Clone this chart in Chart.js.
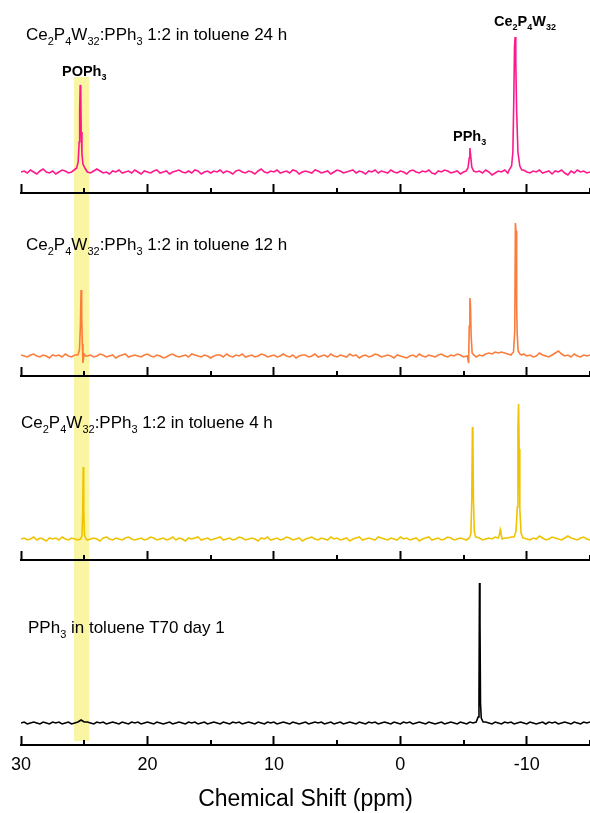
<!DOCTYPE html>
<html>
<head>
<meta charset="utf-8">
<script src="https://cdn.jsdelivr.net/npm/chart.js@4.4.1/dist/chart.umd.min.js"></script>
<style>
  html, body { margin: 0; padding: 0; background: #fff; }
  body { width: 590px; height: 813px; overflow: hidden; position: relative; }
  canvas { position: absolute; left: 0; }
  .t { position: absolute; font-family: 'Liberation Sans', Arial, sans-serif; font-size: 17px; line-height: 20px; color: #000; white-space: nowrap; z-index: 5; }
  .t sub { font-size: 11px; vertical-align: baseline; position: relative; top: 5px; }
  .p { position: absolute; font-family: 'Liberation Sans', Arial, sans-serif; font-size: 14.5px; font-weight: bold; line-height: 18px; color: #000; white-space: nowrap; z-index: 5; }
  .p sub { font-size: 9px; vertical-align: baseline; position: relative; top: 4px; }
</style>
</head>
<body>
<canvas id="c1" width="590" height="195" style="top:0px"></canvas>
<canvas id="c2" width="590" height="183" style="top:195px"></canvas>
<canvas id="c3" width="590" height="184" style="top:378px"></canvas>
<canvas id="c4" width="590" height="251" style="top:562px"></canvas>

<div class="t" style="left:26px; top:25px">Ce<sub>2</sub>P<sub>4</sub>W<sub>32</sub>:PPh<sub>3</sub> 1:2 in toluene 24 h</div>
<div class="t" style="left:26px; top:235px">Ce<sub>2</sub>P<sub>4</sub>W<sub>32</sub>:PPh<sub>3</sub> 1:2 in toluene 12 h</div>
<div class="t" style="left:21px; top:413px">Ce<sub>2</sub>P<sub>4</sub>W<sub>32</sub>:PPh<sub>3</sub> 1:2 in toluene 4 h</div>
<div class="t" style="left:28px; top:618px">PPh<sub>3</sub> in toluene T70 day 1</div>

<div class="p" style="left:62px; top:62px">POPh<sub>3</sub></div>
<div class="p" style="left:453px; top:127px">PPh<sub>3</sub></div>
<div class="p" style="left:494px; top:12px">Ce<sub>2</sub>P<sub>4</sub>W<sub>32</sub></div>

<script>
// ---------------- data ----------------
// chemical shift axis (ppm), reversed
const axisMin = -15;
const axisMax = 30;
const majorTicks = [30, 20, 10, 0, -10];
const minorTicks = [25, 15, 5, -5, -15];
const axisTitle = 'Chemical Shift (ppm)';

// highlighted POPh3 region (ppm)
const bandFrom = 25.8;
const bandTo = 24.6;

// baseline sampling grid: starts at 30 ppm, every 0.25 ppm
const gridStart = 30;
const gridStep = 0.25;

// baseline noise, one value per grid point
const noise24h = [
 0,1,-1,2,0,-2,1,3,0,-1, 1,-2,0,2,1,-1,0,1,-2,1,
 2,0,-1,1,3,1,-1,0,-2,1, 0,2,-1,0,1,-1,2,0,-2,1,
 0,-1,1,2,-1,0,1,-2,0,1, 2,0,-1,1,-1,2,1,-2,0,1,
 -1,1,0,2,-1,1,0,-2,1,2, 0,-1,1,0,-2,1,3,0,-1,1,
 0,2,-1,0,1,-1,2,1,-2,0, 1,0,-1,2,1,-1,0,1,-2,0,
 2,1,-1,0,1,2,-1,1,0,-2, 1,0,2,-1,1,0,-1,2,0,-1,
 1,0,-2,1,2,0,-1,1,0,2, -1,-2,1,0,2,1,-1,0,1,-2,
 0,1,2,-1,0,1,-1,2,0,-3, -1,1,0,2,-1,1,0,-2,1,2,
 0,-1,1,0,2,-1,0,1,-2,1, 0,2,-1,-3,1,-1,2,0,1,-1,
 0
];
const noise12h = [
 1,0,-1,1,2,0,-1,1,0,-2, 1,0,1,-1,2,0,-1,1,0,2,
 -1,0,1,-1,0,2,1,-1,0,1, -2,0,1,2,-1,0,1,0,-1,1,
 2,0,-1,1,0,-2,-1,1,2,0, -1,0,1,-1,2,1,0,-1,1,0,
 -2,0,1,1,-1,2,0,-1,1,0, 2,-1,0,1,-1,0,2,1,-1,0,
 1,-1,0,2,0,-1,1,-2,0,1, 1,-1,0,2,-1,0,1,-1,2,0,
 -1,1,0,-1,2,0,1,-2,0,1, -1,0,2,1,-1,0,1,0,-2,1,
 0,-1,-2,0,1,-1,2,0,-1,1, 0,-1,1,2,0,-1,1,0,2,1,
 -1,0,1,0,-1,1,0,2,3,2, 4,3,4,3,2,1,0,-1,1,2,
 0,1,-1,0,3,1,0,-1,1,3, 5,2,0,1,-1,2,0,-1,1,0,
 1
];
const noise4h = [
 0,1,-1,0,2,-1,1,0,-2,1, 0,1,-1,2,0,-1,1,0,-1,2,
 1,-1,0,1,0,-2,1,2,0,-1, 1,0,-1,1,2,0,-1,0,1,-1,
 0,2,1,-1,0,1,-1,0,2,-1, 1,0,-2,1,0,1,2,-1,0,1,
 -1,0,1,2,-1,0,1,-1,0,2, 1,-1,0,1,0,-2,1,0,2,-1,
 0,1,-1,0,2,1,-1,0,1,-2, 0,1,2,0,-1,1,0,-1,2,0,
 1,-1,0,1,-2,0,1,2,-1,0, 1,0,-1,2,1,0,-1,1,0,-1,
 2,0,1,-1,0,1,-2,0,1,2, -1,0,1,-1,0,2,1,-1,0,1,
 0,-1,1,0,2,1,-1,0,1,0, 2,-1,0,1,1,2,-1,0,3,1,
 0,-1,1,0,3,1,-1,0,2,1, 0,-1,1,3,1,0,-1,1,2,0,
 -1
];
const noiseDay1 = [
 0,1,-1,0,1,0,-1,1,0,-1, 1,0,1,-1,0,1,-1,0,1,3,
 1,1,0,-1,1,0,1,-1,0,1, 0,-1,1,0,-1,1,0,1,-1,0,
 1,0,-1,1,0,-1,0,1,-1,0, 1,0,-1,1,0,1,-1,0,1,-1,
 0,1,0,-1,1,0,-1,1,0,1, -1,0,1,0,-1,1,0,-1,1,0,
 1,-1,0,1,0,-1,1,0,-1,0, 1,-1,0,1,0,1,-1,0,1,-1,
 0,1,-1,0,1,0,-1,1,0,-1, 1,0,1,-1,0,1,0,-1,1,0,
 -1,1,0,1,-1,0,1,0,-1,1, 0,-1,0,1,-1,0,1,0,-1,1,
 0,-1,1,0,1,-1,0,1,0,-1, 1,0,-1,1,0,1,-1,0,1,0,
 -1,1,0,-1,0,1,-1,1,0,1, -1,0,1,0,-1,1,0,-1,1,0,
 1
];

// resonances: ppm positions and intensities of each peak
const peakPpm24h = [
  [25.8, 25.6, 25.48, 25.4, 25.36, 25.32, 25.28, 25.24, 25.18, 25.1, 24.95, 24.8],
  [-5.2, -5.35, -5.45, -5.5, -5.55, -5.65, -5.8],
  [-8.6, -8.8, -8.9, -8.97, -9.03, -9.08, -9.13, -9.2, -9.3, -9.45, -9.6]
];
const peakInt24h = [
  [2, 4, 10, 30, 60, 87, 84, 40, 18, 8, 4, 1],
  [1, 4, 14, 24, 18, 5, 1],
  [2, 6, 20, 70, 125, 135, 110, 60, 20, 6, 2]
];
const peakPpm12h = [
  [25.5, 25.38, 25.3, 25.25, 25.2, 25.15, 25.1, 25.02, 24.9],
  [-5.3, -5.4, -5.45, -5.5, -5.55, -5.6, -5.68, -5.8],
  [-8.8, -8.95, -9.05, -9.1, -9.15, -9.2, -9.25, -9.32, -9.45, -9.6]
];
const peakInt12h = [
  [1, 6, 30, 66, 40, 12, -7, 2, 0],
  [0, -7, 30, 58, 50, 20, 3, 1],
  [2, 4, 25, 133, 125, 48, 20, 5, 2, 1]
];
const peakPpm4h = [
  [25.3, 25.18, 25.12, 25.08, 25.04, 24.98, 24.85],
  [-5.45, -5.58, -5.65, -5.7, -5.74, -5.78, -5.85, -5.95],
  [-7.75, -7.85, -7.9, -7.95, -8.05],
  [-9.0, -9.15, -9.25, -9.3, -9.35, -9.4, -9.45, -9.55, -9.7]
];
const peakInt4h = [
  [0, 3, 25, 72, 30, 4, 0],
  [1, 5, 40, 112, 100, 40, 8, 2],
  [1, 5, 9, 6, 0],
  [2, 8, 32, 110, 135, 90, 30, 6, 1]
];
const peakPpmDay1 = [
  [-6.0, -6.15, -6.22, -6.26, -6.3, -6.34, -6.4, -6.55]
];
const peakIntDay1 = [
  [1, 6, 24, 140, 100, 20, 5, 1]
];

const seriesColors = ['#ff178c', '#fa7d3c', '#f0c300', '#000000'];

// ---------------- assembly ----------------
function buildSeries(noise, peakPpm, peakInt) {
  const pts = [];
  for (let i = 0; i < noise.length; i++) {
    const x = gridStart - gridStep * i;
    const inside = peakPpm.some(g => x <= g[0] && x >= g[g.length - 1]);
    if (!inside) pts.push({ x: x, y: noise[i] });
  }
  peakPpm.forEach((g, k) => g.forEach((x, j) => pts.push({ x: x, y: peakInt[k][j] })));
  pts.sort((a, b) => b.x - a.x);
  return pts;
}

const bandPlugin = {
  id: 'band',
  beforeDraw(chart, args, opts) {
    const xs = chart.scales.x, ctx = chart.ctx;
    const a = xs.getPixelForValue(bandFrom), b = xs.getPixelForValue(bandTo);
    ctx.save();
    ctx.fillStyle = '#f9f5a3';
    ctx.fillRect(Math.min(a, b), opts.top, Math.abs(b - a), opts.bottom - opts.top);
    ctx.restore();
  }
};
const minorTickPlugin = {
  id: 'minorTicks',
  afterDraw(chart) {
    const xs = chart.scales.x, ctx = chart.ctx;
    ctx.save();
    ctx.strokeStyle = '#000';
    ctx.lineWidth = 2;
    minorTicks.forEach(v => {
      const px = Math.round(xs.getPixelForValue(v));
      ctx.beginPath();
      ctx.moveTo(px, xs.top);
      ctx.lineTo(px, xs.top - 5);
      ctx.stroke();
    });
    ctx.restore();
  }
};

Chart.defaults.font.family = "'Liberation Sans', Arial, sans-serif";
Chart.defaults.color = '#000';

function makePanel(id, data, color, yMin, yMax, band, bottomAxis) {
  const canvas = document.getElementById(id);
  new Chart(canvas, {
    type: 'line',
    data: { datasets: [{ data: data, borderColor: color, borderWidth: 1.6, pointRadius: 0, tension: 0, fill: false }] },
    plugins: [bandPlugin, minorTickPlugin],
    options: {
      responsive: false,
      animation: false,
      events: [],
      devicePixelRatio: 1,
      layout: { autoPadding: false, padding: { left: 21, right: 0, top: 0, bottom: 0 } },
      plugins: { legend: { display: false }, tooltip: { enabled: false }, band: band },
      scales: {
        x: {
          type: 'linear', reverse: true, min: axisMin, max: axisMax,
          afterBuildTicks: s => { s.ticks = majorTicks.map(v => ({ value: v })); },
          afterFit: s => { s.height = bottomAxis ? 68 : 2; s.paddingLeft = 0; s.paddingRight = 0; },
          border: { display: true, color: '#000', width: 2 },
          grid: { drawOnChartArea: false, drawTicks: true, tickLength: -9, tickWidth: 2, tickColor: '#000' },
          ticks: { display: bottomAxis, padding: 18, font: { size: 18 }, maxRotation: 0, autoSkip: false },
          title: { display: bottomAxis, text: axisTitle, font: { size: 23 }, padding: { top: 0, bottom: 0 } }
        },
        y: { display: false, min: yMin, max: yMax }
      }
    }
  });
}

makePanel('c1', buildSeries(noise24h, peakPpm24h, peakInt24h), seriesColors[0], -21, 172, { top: 77, bottom: 195 }, false);
makePanel('c2', buildSeries(noise12h, peakPpm12h, peakInt12h), seriesColors[1], -20, 161, { top: 0, bottom: 183 }, false);
makePanel('c3', buildSeries(noise4h, peakPpm4h, peakInt4h), seriesColors[2], -21, 161, { top: 0, bottom: 184 }, false);
makePanel('c4', buildSeries(noiseDay1, peakPpmDay1, peakIntDay1), seriesColors[3], -22, 161, { top: 0, bottom: 179 }, true);
</script>
</body>
</html>
